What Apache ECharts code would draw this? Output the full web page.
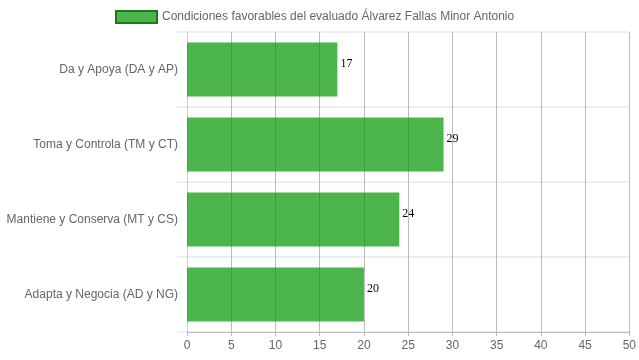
<!DOCTYPE html>
<html><head><meta charset="utf-8">
<script src="https://cdn.jsdelivr.net/npm/echarts@6/dist/echarts.min.js"></script>
<style>html,body{margin:0;padding:0;background:#fff}#c{width:639px;height:360px}</style>
</head><body><div id="c"></div>
<script>
const categories = ['Da y Apoya (DA y AP)', 'Toma y Controla (TM y CT)', 'Mantiene y Conserva (MT y CS)', 'Adapta y Negocia (AD y NG)'];
const values = [17, 29, 24, 20];
const seriesName = 'Condiciones favorables del evaluado Álvarez Fallas Minor Antonio';
const xTicks = {min: 0, max: 50, interval: 5};

const chart = echarts.init(document.getElementById('c'));
chart.setOption({
  animation: false,
  textStyle: {fontFamily: 'Liberation Sans, Arial, sans-serif'},
  legend: {
    top: 10, left: 115, padding: 0,
    itemWidth: 41, itemHeight: 12, itemGap: 6,
    textStyle: {color: '#666', fontSize: 12, fontFamily: 'Liberation Sans, Arial, sans-serif'},
    data: [{name: seriesName, icon: 'rect', itemStyle: {color: 'rgba(0,149,0,0.7)', borderColor: '#1a7a1a', borderWidth: 2}}]
  },
  grid: {left: 187, right: 9, top: 32, bottom: 28, containLabel: false},
  xAxis: {
    type: 'value', min: xTicks.min, max: xTicks.max, interval: xTicks.interval,
    axisLine: {show: true, lineStyle: {color: '#bbb'}},
    axisTick: {show: true, length: 4, lineStyle: {color: '#bbb'}},
    axisLabel: {color: '#666', fontSize: 12, margin: 8},
    splitLine: {show: true, lineStyle: {color: '#bbb', width: 1}}
  },
  yAxis: {
    type: 'category', inverse: true, data: categories,
    axisLine: {show: true, lineStyle: {color: '#ccc'}},
    axisTick: {show: true, length: 10, lineStyle: {color: '#eee', width: 2}},
    axisLabel: {color: '#666', fontSize: 12, margin: 9},
    splitLine: {show: true, lineStyle: {color: '#eee', width: 2}}
  },
  series: [{
    name: seriesName, type: 'bar', data: values,
    barCategoryGap: '28%',
    itemStyle: {color: 'rgba(0,149,0,0.7)'},
    label: {show: true, position: 'right', distance: 3, offset: [0, -6], color: '#000', fontSize: 12, fontFamily: 'Liberation Serif, Times New Roman, serif'}
  }]
});
</script></body></html>
